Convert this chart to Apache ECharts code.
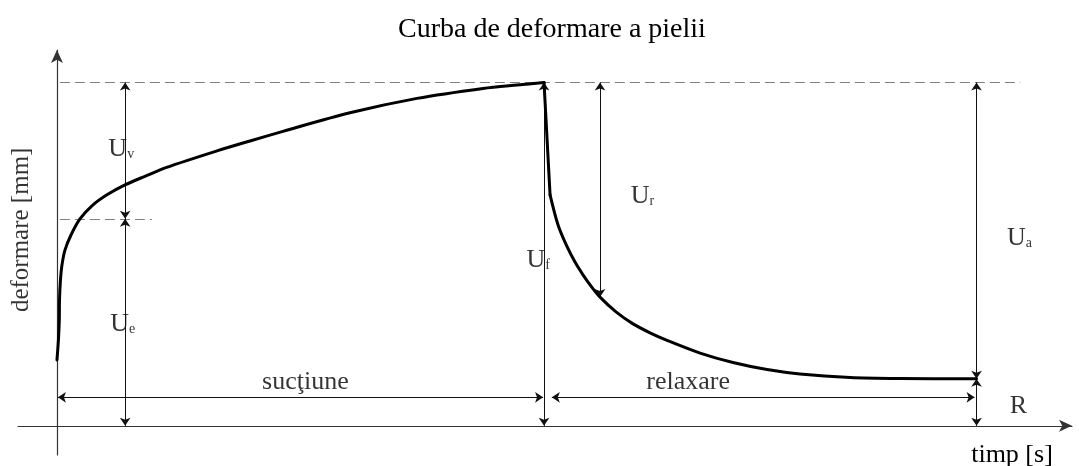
<!DOCTYPE html>
<html>
<head>
<meta charset="utf-8">
<script src="https://cdn.jsdelivr.net/npm/echarts@6/dist/echarts.min.js"></script>
<style>
  html, body { margin: 0; padding: 0; background: #fff; }
  #chart { width: 1079px; height: 466px; }
</style>
</head>
<body>
<div id="chart"></div>
<script>
  // curba de deformare (timp, deformare) - unitati arbitrare
  // faza de suctiune (pana la varf)
  const curveRise = [
    [0.0, 19.2], [0.15, 25.0], [0.24, 30.8], [0.26, 36.6], [0.36, 42.5], [0.51, 46.8],
    [0.82, 51.2], [1.44, 55.6], [2.36, 60.3], [3.59, 64.1], [5.13, 67.3], [6.98, 70.2],
    [9.03, 72.7], [11.26, 75.3], [16.43, 80.1], [19.82, 83.0], [23.2, 85.8], [30.08, 91.2],
    [36.96, 95.4], [43.74, 98.3], [47.23, 99.3], [50.0, 100]
  ];
  // faza de relaxare (dupa caderea brusca)
  const curveFall = [
    [50.62, 67.3], [51.44, 58.5], [52.33, 52.4], [53.18, 47.7], [54.0, 44.0], [54.88, 40.5],
    [55.75, 37.5], [57.39, 33.2], [59.14, 29.7], [60.88, 27.1], [62.63, 24.9], [66.02, 21.2],
    [69.4, 18.45], [72.9, 16.4], [76.28, 15.1], [81.42, 14.1], [86.55, 13.8], [94.4, 13.7]
  ];

  // linii punctate de referinta
  const dashed = [
    [[0.3, 100], [98.9, 100]],
    [[0.3, 60.3], [9.75, 60.3]]
  ];

  // sageti de cota (dublu sens)
  const arrows = [
    [[7.0, 100], [7.0, 60.3]],      // Uv
    [[7.0, 60.3], [7.0, 0]],        // Ue
    [[50.0, 100], [50.0, 0]],       // Uf
    [[55.75, 100], [55.75, 37.5]],  // Ur
    [[94.4, 100], [94.4, 13.7]],    // Ua
    [[94.4, 13.7], [94.4, 0]],      // R
    [[0.1, 8.3], [49.9, 8.3]],      // suctiune
    [[50.8, 8.3], [94.2, 8.3]]      // relaxare
  ];

  // etichete U cu indice
  const subLabels = [
    ['v', 6.6, 80.6],
    ['e', 6.75, 29.6],
    ['f', 49.4, 48.3],
    ['r', 60.1, 66.9],
    ['a', 98.8, 54.7]
  ];

  // etichete simple
  const plainLabels = [
    ['sucţiune', 25.5, 12.8],
    ['relaxare', 64.8, 12.6],
    ['R', 98.7, 5.6]
  ];

  const font = "'Liberation Serif', 'DejaVu Serif', serif";

  const lineStyle = { color: '#000', width: 3, join: 'round', cap: 'round' };

  const myChart = echarts.init(document.getElementById('chart'));

  const option = {
    backgroundColor: '#fff',
    animation: false,
    textStyle: { fontFamily: font, color: '#000' },
    title: {
      text: 'Curba de deformare a pielii',
      left: 393,
      top: 11,
      textStyle: { fontFamily: font, fontWeight: 'normal', fontSize: 28, color: '#000' }
    },
    grid: {
      left: 18,
      right: 7,
      top: 50,
      bottom: 11,
      containLabel: false,
      outerBoundsMode: 'none'
    },
    xAxis: {
      type: 'value',
      min: -4,
      max: 104.2,
      name: 'timp [s]',
      nameLocation: 'end',
      nameGap: -60,
      nameTextStyle: {
        fontFamily: font, fontSize: 26, color: '#000',
        align: 'center', verticalAlign: 'top', padding: [16, 0, 0, 0]
      },
      axisLine: {
        onZero: true,
        symbol: ['none', 'arrow'],
        symbolSize: [9, 13],
        lineStyle: { color: '#333', width: 1.2 }
      },
      axisTick: { show: false },
      axisLabel: { show: false },
      splitLine: { show: false }
    },
    yAxis: {
      type: 'value',
      min: -8.5,
      max: 109.5,
      axisLine: {
        onZero: true,
        symbol: ['none', 'arrow'],
        symbolSize: [9, 13],
        lineStyle: { color: '#333', width: 1.2 }
      },
      axisTick: { show: false },
      axisLabel: { show: false },
      splitLine: { show: false }
    },
    series: [
      {
        name: 'suctiune',
        type: 'line',
        data: curveRise,
        smooth: 0.3,
        showSymbol: false,
        symbol: 'none',
        lineStyle: lineStyle,
        silent: true,
        z: 5
      },
      {
        name: 'cadere',
        type: 'line',
        data: [curveRise[curveRise.length - 1], curveFall[0]],
        showSymbol: false,
        symbol: 'none',
        lineStyle: lineStyle,
        silent: true,
        z: 5
      },
      {
        name: 'relaxare',
        type: 'line',
        data: curveFall,
        smooth: 0.3,
        showSymbol: false,
        symbol: 'none',
        lineStyle: lineStyle,
        silent: true,
        z: 5
      },
      {
        name: 'referinta',
        type: 'line',
        data: [],
        silent: true,
        markLine: {
          silent: true,
          symbol: ['none', 'none'],
          label: { show: false },
          lineStyle: { color: '#808080', width: 1.2, type: [10, 5] },
          emphasis: { disabled: true },
          data: dashed.map(d => [{ coord: d[0] }, { coord: d[1] }])
        }
      },
      {
        name: 'cote',
        type: 'line',
        data: [],
        silent: true,
        markLine: {
          silent: true,
          symbol: ['arrow', 'arrow'],
          symbolSize: 8,
          label: { show: false },
          lineStyle: { color: '#111', width: 1, type: 'solid' },
          emphasis: { disabled: true },
          data: arrows.map(d => [{ coord: d[0] }, { coord: d[1] }])
        }
      },
      {
        name: 'etichete U',
        type: 'scatter',
        symbolSize: 0,
        silent: true,
        data: subLabels.map(d => ({ name: d[0], value: [d[1], d[2]] })),
        label: {
          show: true,
          position: 'inside',
          formatter: p => '{u|U}{s|' + p.name + '}',
          rich: {
            u: { fontFamily: font, fontSize: 26, color: '#000' },
            s: { fontFamily: font, fontSize: 14, color: '#000', padding: [10, 0, 0, 0] }
          }
        }
      },
      {
        name: 'etichete',
        type: 'scatter',
        symbolSize: 0,
        silent: true,
        data: plainLabels.map(d => ({ name: d[0], value: [d[1], d[2]] })),
        label: {
          show: true,
          position: 'inside',
          formatter: p => p.name,
          fontFamily: font,
          fontSize: 26,
          color: '#000'
        }
      },
      {
        // numele axei verticale
        name: 'axa y',
        type: 'scatter',
        symbolSize: 0,
        silent: true,
        data: [{ name: 'deformare [mm]', value: [-3.6, 57.1] }],
        label: {
          show: true,
          position: 'inside',
          rotate: 90,
          formatter: p => p.name,
          fontFamily: font,
          fontSize: 25,
          color: '#000'
        }
      }
    ]
  };

  myChart.setOption(option);
</script>
</body>
</html>
